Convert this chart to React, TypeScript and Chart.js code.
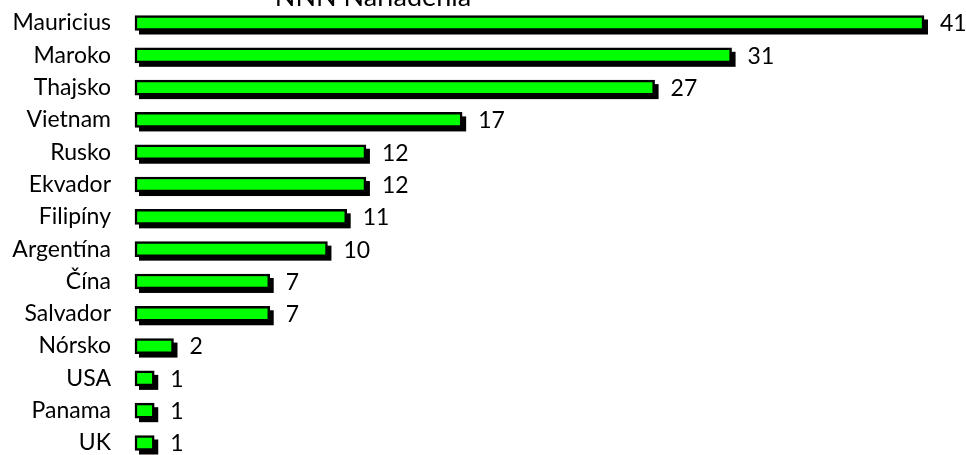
import React, { useEffect, useRef } from "react";
import { Chart, registerables } from "chart.js";

Chart.register(...registerables);

const TITLE = "NNN Nariadenia";
const categories = [
  "Mauricius", "Maroko", "Thajsko", "Vietnam", "Rusko", "Ekvador", "Filipíny",
  "Argentína", "Čína", "Salvador", "Nórsko", "USA", "Panama", "UK",
];
const values = [41, 31, 27, 17, 12, 12, 11, 10, 7, 7, 2, 1, 1, 1];

const FONT_FAMILY = "Lato, 'Open Sans', sans-serif";
const FONT_SIZE = 23;
const TITLE_SIZE = 27;

export default function App() {
  const ref = useRef<HTMLCanvasElement | null>(null);

  useEffect(() => {
    if (!ref.current) return;
    const shadowAndLabels = {
      id: "shadowAndLabels",
      beforeDatasetsDraw(chart: any) {
        const ctx = chart.ctx;
        ctx.save();
        ctx.fillStyle = "#000000";
        const meta = chart.getDatasetMeta(0);
        meta.data.forEach((bar: any) => {
          const left = Math.min(bar.base, bar.x);
          const right = Math.max(bar.base, bar.x);
          const top = bar.y - bar.height / 2;
          ctx.fillRect(left + 4, top + 4, right - left, bar.height);
        });
        ctx.restore();
      },
      afterDatasetsDraw(chart: any) {
        const ctx = chart.ctx;
        ctx.save();
        ctx.fillStyle = "#000000";
        ctx.font = `${FONT_SIZE}px ${FONT_FAMILY}`;
        ctx.textAlign = "left";
        ctx.textBaseline = "middle";
        const meta = chart.getDatasetMeta(0);
        meta.data.forEach((bar: any, i: number) => {
          ctx.fillText(String(values[i]), bar.x + 16, bar.y + 1);
        });
        ctx.restore();
      },
      afterDraw(chart: any) {
        const ctx = chart.ctx;
        ctx.save();
        ctx.fillStyle = "#000000";
        ctx.font = `${TITLE_SIZE}px ${FONT_FAMILY}`;
        ctx.textAlign = "center";
        ctx.textBaseline = "alphabetic";
        ctx.fillText(TITLE, 373, 6);
        ctx.restore();
      },
    };

    const chart = new Chart(ref.current, {
      type: "bar",
      data: {
        labels: categories,
        datasets: [
          {
            data: values,
            backgroundColor: "#00FF00",
            borderColor: "#000000",
            borderWidth: 2.5,
            borderSkipped: false,
            barThickness: 15,
            clip: false as any,
          },
        ],
      },
      options: {
        indexAxis: "y",
        animation: false,
        responsive: false,
        devicePixelRatio: 1,
        layout: { padding: { top: 23, bottom: 12, right: 42, left: 0 } },
        plugins: {
          legend: { display: false },
          tooltip: { enabled: false },
          title: { display: false },
        },
        scales: {
          x: { display: false, min: 0, max: 41 },
          y: {
            offset: false,
            grid: { display: false, drawTicks: false },
            border: { display: false },
            ticks: {
              color: "#000000",
              padding: 24,
              autoSkip: false,
              font: { family: FONT_FAMILY, size: FONT_SIZE },
            },
            afterFit(scale: any) {
              scale.width = 135;
              scale.paddingTop = 0;
              scale.paddingBottom = 0;
            },
          },
        },
      },
      plugins: [shadowAndLabels],
    });
    return () => chart.destroy();
  }, []);

  return (
    <div style={{ position: "fixed", left: 0, top: 0, width: 966, height: 455, background: "#fff" }}>
      <canvas ref={ref} width={966} height={455} style={{ width: 966, height: 455 }} />
    </div>
  );
}
